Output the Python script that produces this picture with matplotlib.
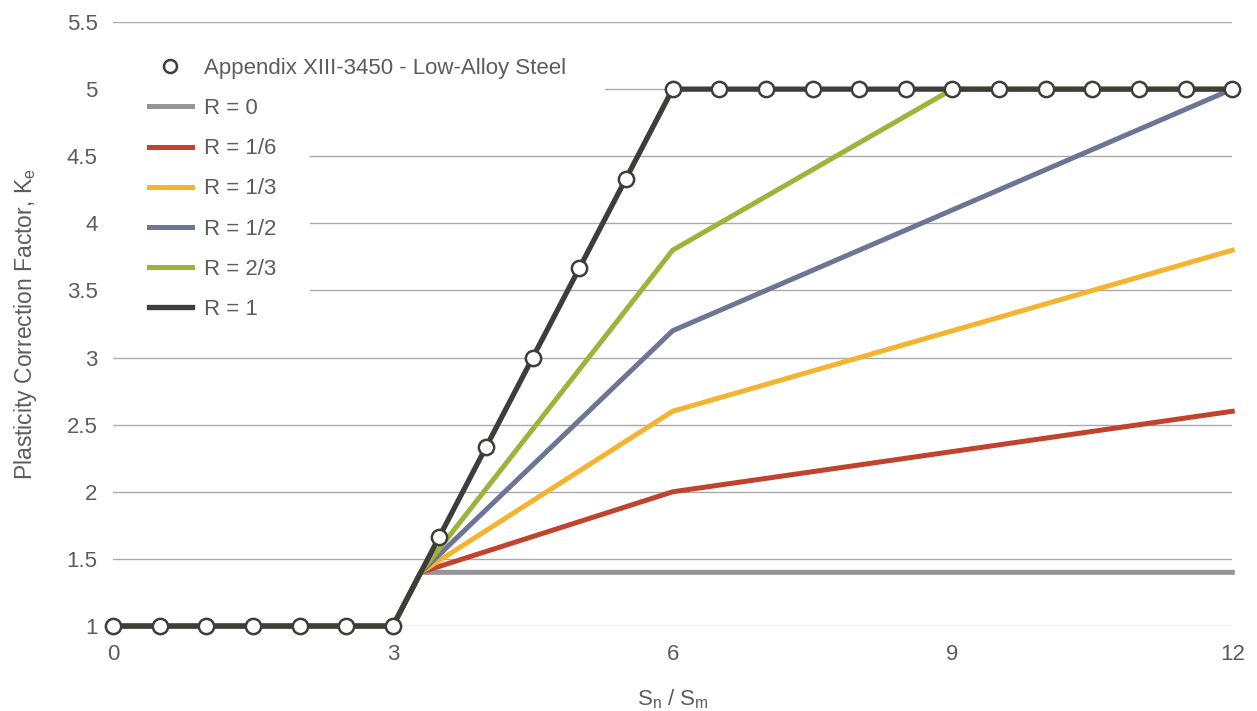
import matplotlib.pyplot as plt
from matplotlib.patches import Rectangle

plt.rcParams['font.family'] = ['Liberation Sans', 'DejaVu Sans']

# data
sn_sm = [0, 0.5, 1, 1.5, 2, 2.5, 3, 3.5, 4, 4.5, 5, 5.5, 6, 6.5, 7, 7.5, 8, 8.5, 9, 9.5, 10, 10.5, 11, 11.5, 12]
ke_appendix = [1, 1, 1, 1, 1, 1, 1, 1.667, 2.333, 3, 3.667, 4.333, 5, 5, 5, 5, 5, 5, 5, 5, 5, 5, 5, 5, 5]

x_r = [0, 3, 3.3, 6, 9, 12]
ke_r0 = [1, 1, 1.4, 1.4, 1.4, 1.4]
ke_r16 = [1, 1, 1.4, 2.0, 2.3, 2.6]
ke_r13 = [1, 1, 1.4, 2.6, 3.2, 3.8]
ke_r12 = [1, 1, 1.4, 3.2, 4.1, 5.0]
ke_r23 = [1, 1, 1.4, 3.8, 5.0, 5.0]
x_r1 = [0, 3, 6, 12]
ke_r1 = [1, 1, 5, 5]

labels = ['R = 0', 'R = 1/6', 'R = 1/3', 'R = 1/2', 'R = 2/3']
colors = ['#939598', '#c1432e', '#f4b431', '#6c7596', '#9bb53a']
series = [ke_r0, ke_r16, ke_r13, ke_r12, ke_r23]

fig = plt.figure(figsize=(12.57, 7.11), dpi=100)
ax = fig.add_axes([0.0899, 0.1195, 0.8904, 0.8495])

text_c = '#5c5c5c'

mk, = ax.plot(sn_sm, ke_appendix, linestyle='none', marker='o', markersize=11,
              markerfacecolor='white', markeredgecolor='#3d3d3b', markeredgewidth=1.8,
              zorder=6, clip_on=False, label='Appendix XIII-3450 - Low-Alloy Steel')
handles = [mk]
for y, c, lab in zip(series, colors, labels):
    h, = ax.plot(x_r, y, color=c, linewidth=3.6, zorder=3, clip_on=False, label=lab)
    handles.append(h)
h, = ax.plot(x_r1, ke_r1, color='#3d3d3b', linewidth=3.8, zorder=5, clip_on=False, label='R = 1')
handles.append(h)

ax.set_xlim(0, 12)
ax.set_ylim(1, 5.5)
ax.set_xticks([0, 3, 6, 9, 12])
ax.set_yticks([1, 1.5, 2, 2.5, 3, 3.5, 4, 4.5, 5, 5.5])
ax.set_yticklabels(['1', '1.5', '2', '2.5', '3', '3.5', '4', '4.5', '5', '5.5'])
ax.tick_params(length=0, labelsize=16, labelcolor=text_c)
ax.tick_params(axis='x', pad=13)
ax.tick_params(axis='y', pad=11)
for s in ax.spines.values():
    s.set_visible(False)
ax.grid(axis='y', color='#aaaaaa', linewidth=1)
ax.set_axisbelow(True)

# white areas behind the legend hide the gridlines
ax.add_patch(Rectangle((0.0, 0.49), 0.176, 0.47, transform=ax.transAxes,
                       facecolor='white', edgecolor='none', zorder=1))
ax.add_patch(Rectangle((0.0, 0.87), 0.44, 0.085, transform=ax.transAxes,
                       facecolor='white', edgecolor='none', zorder=1))

leg = ax.legend(handles=handles, loc='upper left', bbox_to_anchor=(0.024, 0.955),
                frameon=False, fontsize=16, labelspacing=0.86, handlelength=1.95,
                handletextpad=0.55, borderaxespad=0, markerscale=0.85)
for t in leg.get_texts():
    t.set_color(text_c)
leg.set_zorder(7)

ax.set_xlabel(r'S$_\mathregular{n}$ / S$_\mathregular{m}$', fontsize=16, color=text_c, labelpad=16)
ax.set_ylabel(r'Plasticity Correction Factor, K$_\mathregular{e}$', fontsize=16.5, color=text_c, labelpad=20)

fig.savefig('out.png', dpi=100)
